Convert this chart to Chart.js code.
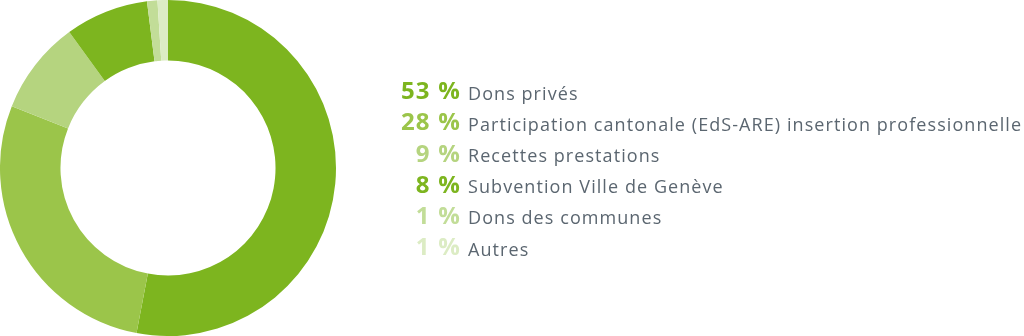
<!DOCTYPE html>
<html><head><meta charset="utf-8">
<script src="https://cdn.jsdelivr.net/npm/chart.js@4/dist/chart.umd.min.js"></script>
<style>
html,body{margin:0;padding:0;background:#fff;width:1024px;height:336px;overflow:hidden;}
#wrap{position:absolute;left:0;top:0;width:336px;height:336px;}
#legend{position:absolute;left:0;top:0;width:1024px;height:336px;font-family:"Open Sans",sans-serif;}
.pct{position:absolute;font-weight:700;font-size:24px;letter-spacing:1.2px;line-height:1;white-space:nowrap;}
.lab{position:absolute;font-size:18px;color:#5b6670;line-height:1;white-space:nowrap;}
</style></head>
<body>
<div id="wrap"><canvas id="c" width="336" height="336"></canvas></div>
<div id="legend"></div>
<script>
const categories = ["Dons privés","Participation cantonale (EdS-ARE) insertion professionnelle","Recettes prestations","Subvention Ville de Genève","Dons des communes","Autres"];
const values = [53, 28, 9, 8, 1, 1];
const pctLabels = ["53 %","28 %","9 %","8 %","1 %","1 %"];
const colors = ["#7db51f","#9bc54a","#b5d47f","#7db51f","#c2dd98","#dcecc4"];

new Chart(document.getElementById('c'), {
  type: 'doughnut',
  data: { labels: categories, datasets: [{ data: values, backgroundColor: colors, borderWidth: 0 }] },
  options: {
    responsive: false, animation: false, cutout: '64%',
    layout: { padding: 0 },
    plugins: { legend: { display: false }, tooltip: { enabled: false } }
  }
});

const leg = document.getElementById('legend');
const labs = [];
categories.forEach((cat, i) => {
  const base = 99.5 + i * 31.2;
  const p = document.createElement('div');
  p.className = 'pct';
  p.textContent = pctLabels[i];
  p.style.color = colors[i];
  p.style.right = (1024 - 461) + 'px';
  p.style.top = (base - 24 * 0.888) + 'px';
  leg.appendChild(p);
  const l = document.createElement('div');
  l.className = 'lab';
  l.textContent = cat;
  l.style.left = '468px';
  l.style.top = (base - 18 * 0.888) + 'px';
  leg.appendChild(l);
  labs.push(l);
});
// widen label tracking so the longest label spans like the reference
const w = labs[1].getBoundingClientRect().width;
const n = categories[1].length;
const ls = Math.max(0, (554 - w) / n);
labs.forEach(l => l.style.letterSpacing = ls.toFixed(2) + 'px');
</script>
</body></html>
